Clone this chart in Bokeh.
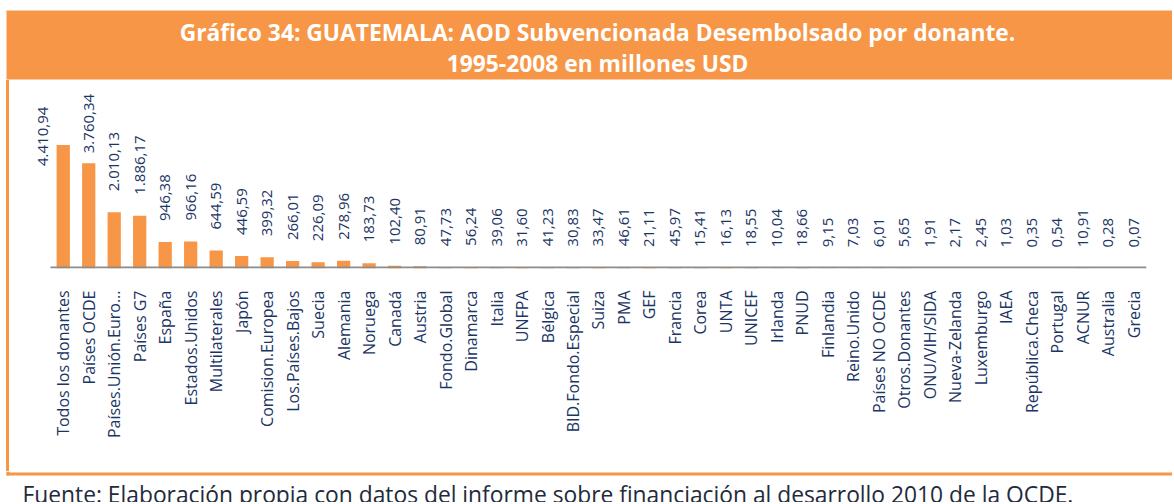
import math
from bokeh.plotting import figure
from bokeh.layouts import column, row
from bokeh.models import (Range1d, ColumnDataSource, LabelSet, Label, BoxAnnotation,
                          FixedTicker, Div)
from bokeh.core.properties import value
from bokeh.embed import file_html
from bokeh.resources import INLINE

# ---------------- data ----------------
donantes = [
    "Todos los donantes", "Países OCDE", "Países.Unión.Euro...", "Países G7", "España",
    "Estados.Unidos", "Multilaterales", "Japón", "Comision.Europea", "Los.Países.Bajos",
    "Suecia", "Alemania", "Noruega", "Canadá", "Austria", "Fondo.Global", "Dinamarca",
    "Italia", "UNFPA", "Bélgica", "BID.Fondo.Especial", "Suiza", "PMA", "GEF", "Francia",
    "Corea", "UNTA", "UNICEF", "Irlanda", "PNUD", "Finlandia", "Reino.Unido",
    "Países NO OCDE", "Otros.Donantes", "ONU/VIH/SIDA", "Nueva-Zelanda", "Luxemburgo",
    "IAEA", "República.Checa", "Portugal", "ACNUR", "Australia", "Grecia",
]
montos = [
    4410.94, 3760.34, 2010.13, 1886.17, 946.38, 966.16, 644.59, 446.59, 399.32, 266.01,
    226.09, 278.96, 183.73, 102.40, 80.91, 47.73, 56.24, 39.06, 31.60, 41.23, 30.83,
    33.47, 46.61, 21.11, 45.97, 15.41, 16.13, 18.55, 10.04, 18.66, 9.15, 7.03, 6.01,
    5.65, 1.91, 2.17, 2.45, 1.03, 0.35, 0.54, 10.91, 0.28, 0.07,
]
titulo_1 = "Gráfico 34: GUATEMALA: AOD Subvencionada Desembolsado por donante."
titulo_2 = "1995-2008 en millones USD"
fuente = "Fuente: Elaboración propia con datos del informe sobre financiación al desarrollo 2010 de la OCDE."


def fmt_es(v):
    s = f"{v:,.2f}"
    return s.replace(",", "X").replace(".", ",").replace("X", ".")


# ---------------- style ----------------
ORANGE = "#F79646"
NAVY = "#1B3564"
FONT = "Open Sans"
W = 1172
H_TOP, H_MID, H_BOT = 80, 391, 31
LEFT_W = 10

n = len(donantes)
idx = list(range(n))

# value-label placement (screen px): float above the bar; first two adjusted as in the original
dx = [0.0] * n
dy = [21.0] * n
dx[0], dy[0] = -20.0, -21.0
dy[1] = 10.0


def blank_fig(width, height):
    f = figure(width=width, height=height, output_backend="svg", toolbar_location=None,
               x_range=Range1d(0, 1), y_range=Range1d(0, 1), min_border=0,
               x_axis_location=None, y_axis_location=None, outline_line_color=None,
               background_fill_color="white", border_fill_color="white")
    f.grid.visible = False
    return f


def box(f, l, r, b, t, color=ORANGE, lu="screen", ru="screen", level="underlay"):
    f.add_layout(BoxAnnotation(left=l, right=r, bottom=b, top=t, left_units=lu,
                               right_units=ru, bottom_units="screen", top_units="screen",
                               fill_color=color, fill_alpha=1, line_color=None,
                               level=level))


# ---- title band ----
top = blank_fig(W, H_TOP)
box(top, 6, W, 1, 70)
for txt, y in ((titulo_1, 48), (titulo_2, 17)):
    top.add_layout(Label(x=597, y=y, x_units="screen", y_units="screen", text=txt,
                         text_align="center", text_baseline="middle", text_font=FONT,
                         text_font_style="bold", text_font_size="22.8px",
                         text_color="white", level="overlay"))

# ---- left border (plain HTML strip) ----
left = Div(text="", width=LEFT_W, height=H_MID, margin=0,
           styles={"background": f"linear-gradient(to right, white 6px, {ORANGE} 6px, "
                                 f"{ORANGE} 9px, white 9px)"})

# ---- main chart ----
src = ColumnDataSource(dict(x=idx, y=montos, lab=[fmt_es(v) for v in montos], dx=dx, dy=dy))

PX_PER_CAT = 25.5
p = figure(width=W - LEFT_W, height=H_MID, output_backend="svg", toolbar_location=None,
           x_range=Range1d(-0.5 - 21 / PX_PER_CAT, n - 0.5), y_range=Range1d(0, 6464),
           y_axis_location=None, min_border_left=19, min_border_right=26,
           min_border_top=7, min_border_bottom=203, outline_line_color=None,
           background_fill_color="white", border_fill_color="white")
p.grid.visible = False

p.vbar(x="x", top="y", width=0.52, source=src, fill_color=ORANGE, line_color=None)
p.add_layout(LabelSet(x="x", y="y", text="lab", source=src, x_offset="dx", y_offset="dy",
                      angle=math.pi / 2, text_align="left", text_baseline="middle",
                      text_font=value(FONT), text_font_size="15px", text_color=NAVY))

ax = p.xaxis[0]
ax.ticker = FixedTicker(ticks=idx)
ax.major_label_overrides = {i: name for i, name in zip(idx, donantes)}
ax.axis_line_color = None
ax.major_tick_line_color = None
ax.minor_tick_line_color = None
ax.major_tick_out = 0
ax.major_tick_in = 0
ax.major_label_orientation = math.pi / 2
ax.major_label_standoff = 22
ax.major_label_text_font = FONT
ax.major_label_text_font_size = "16px"
ax.major_label_text_color = NAVY
# category axis line: spans exactly the categories
box(p, -0.5, n - 0.5, 0, 2, color="#8C8C8C", lu="data", ru="data", level="overlay")

# ---- footer ----
bot = blank_fig(W, H_BOT)
box(bot, 6, 9, 27, H_BOT)
box(bot, 6, W, 27, 30)
bot.add_layout(Label(x=22, y=8, x_units="screen", y_units="screen", text=fuente,
                     text_align="left", text_baseline="alphabetic", text_font=FONT,
                     text_font_size="22.8px", text_color="#1F2B3C", level="overlay"))

layout = column(top, row(left, p, spacing=0), bot, spacing=0)
open("out.html", "w").write(file_html(layout, INLINE))
